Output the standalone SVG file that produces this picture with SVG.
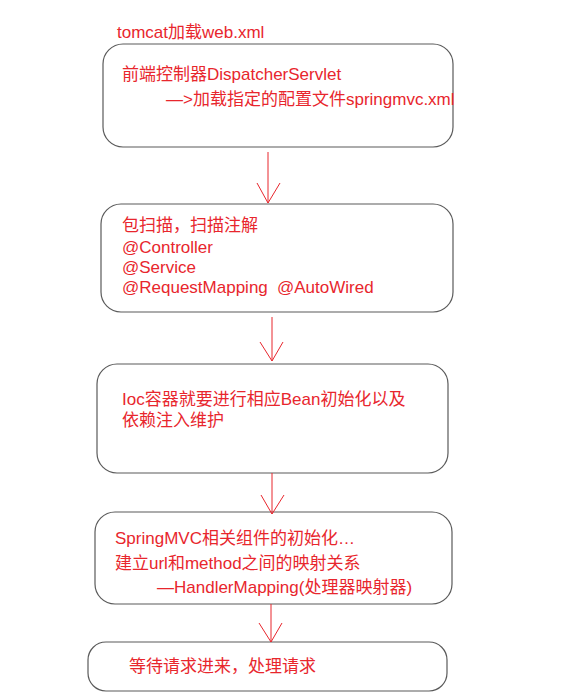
<svg xmlns="http://www.w3.org/2000/svg" width="586" height="700" viewBox="0 0 586 700">
<defs>
<style>
.box{fill:#fff;stroke:#5a5a5a;stroke-width:1.2}
.t{font-family:"Liberation Sans","Noto Sans CJK SC",sans-serif;font-size:17px;fill:#e8262d}
.c{stroke:#e8262d;stroke-width:1;fill:none}
</style>
</defs>
<rect width="586" height="700" fill="#fff"/>
<text class="t" x="117" y="38">tomcat加载web.xml</text>
<g id="n1">
<rect class="box" x="103" y="44" width="350" height="103" rx="20"/>
<text class="t" x="122" y="80">前端控制器DispatcherServlet</text>
<text class="t" x="166" y="105">—&gt;加载指定的配置文件springmvc.xml</text>
</g>
<g id="n2">
<rect class="box" x="101" y="204" width="352" height="108" rx="20"/>
<text class="t" x="122" y="231">包扫描，扫描注解</text>
<text class="t" x="122" y="253">@Controller</text>
<text class="t" x="122" y="273">@Service</text>
<text class="t" x="122" y="293">@RequestMapping<tspan x="277">@AutoWired</tspan></text>
</g>
<g id="n3">
<rect class="box" x="97" y="364" width="351" height="109" rx="20"/>
<text class="t" x="122" y="405">Ioc容器就要进行相应Bean初始化以及</text>
<text class="t" x="122" y="426">依赖注入维护</text>
</g>
<g id="n4">
<rect class="box" x="95" y="512" width="357" height="92" rx="20"/>
<text class="t" x="115" y="544">SpringMVC相关组件的初始化…</text>
<text class="t" x="115" y="569">建立url和method之间的映射关系</text>
<text class="t" x="157" y="593">—HandlerMapping(处理器映射器)</text>
</g>
<g id="n5">
<rect class="box" x="88" y="642" width="359" height="49" rx="18"/>
<text class="t" x="129" y="672">等待请求进来，处理请求</text>
</g>
<g id="connectors">
<path class="c" d="M268 152 V203 M257 183 L268 203 L280 183"/>
<path class="c" d="M272 317 V361 M260 342 L272 361 L283 342"/>
<path class="c" d="M272 473 V514 M261 495 L272 514 L284 495"/>
<path class="c" d="M271 604 V642 M259 623 L271 642 L282 623"/>
</g>
</svg>
